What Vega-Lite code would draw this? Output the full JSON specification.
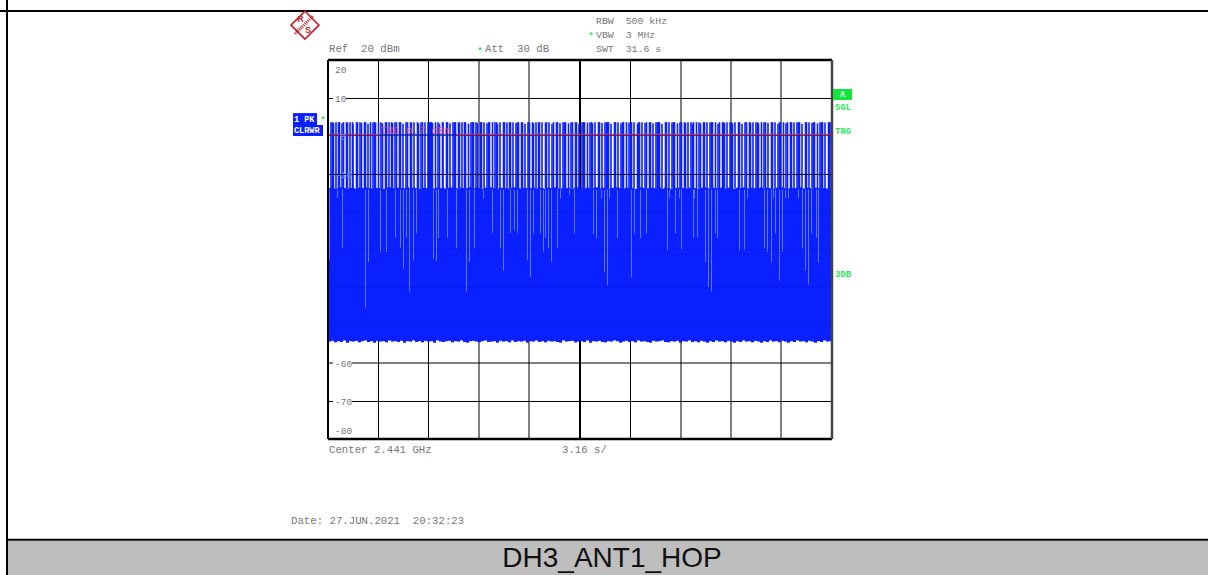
{"$schema":"https://vega.github.io/schema/vega-lite/v6.json","width":504,"height":379,"autosize":"none","padding":{"left":328,"top":60,"right":376,"bottom":136},"background":"#ffffff","view":{"stroke":null},
"encoding":{"x":{"field":"sweep","type":"quantitative","scale":{"domain":[0,504],"nice":false,"zero":false},"axis":null},"y":{"field":"level","type":"quantitative","scale":{"domain":[-80,20],"nice":false,"zero":false},"axis":null}},
"layer":[
{"data":{"values":[{"sweep":-320,"sweep2":880,"level":-106.9,"level2":-116}]},"mark":{"type":"rect","color":"#bebebe"},"encoding":{"x2":{"field":"sweep2"},"y2":{"field":"level2"}}},
{"data":{"values":[{"sweep":-328,"sweep2":880,"level":32.93},{"sweep":-321,"sweep2":880,"level":-106.6}]},"mark":{"type":"rule","color":"#000000","strokeWidth":2},"encoding":{"x2":{"field":"sweep2"}}},
{"data":{"values":[{"sweep":-321,"level":36,"level2":-116}]},"mark":{"type":"rule","color":"#000000","strokeWidth":2},"encoding":{"y2":{"field":"level2"}}},
{"data":{"values":[{"sweep":50.5,"level":20,"level2":-80},{"sweep":100.5,"level":20,"level2":-80},{"sweep":151,"level":20,"level2":-80},{"sweep":201,"level":20,"level2":-80},{"sweep":251.5,"level":20,"level2":-80},{"sweep":252.5,"level":20,"level2":-80},{"sweep":302.5,"level":20,"level2":-80},{"sweep":353,"level":20,"level2":-80},{"sweep":403,"level":20,"level2":-80},{"sweep":453,"level":20,"level2":-80}]},"mark":{"type":"rule","color":"#000000","strokeWidth":1},"encoding":{"y2":{"field":"level2"}}},
{"data":{"values":[{"sweep":0,"sweep2":504,"level":9.85},{"sweep":0,"sweep2":504,"level":0.2},{"sweep":0,"sweep2":504,"level":-10.2},{"sweep":0,"sweep2":504,"level":-59.95},{"sweep":0,"sweep2":504,"level":-70.1}]},"mark":{"type":"rule","color":"#000000","strokeWidth":1},"encoding":{"x2":{"field":"sweep2"}}},
{"data":{"values":[{"sweep":3,"peak":3.6},{"sweep":4.5,"peak":3.6},{"sweep":5.5,"peak":3.4},{"sweep":8,"peak":3.6},{"sweep":10.5,"peak":3.6},{"sweep":11.5,"peak":3.6},{"sweep":14,"peak":3.3},{"sweep":15.5,"peak":3.6},{"sweep":18.5,"peak":3.6},{"sweep":19.5,"peak":3.5},{"sweep":22,"peak":3.6},{"sweep":24.5,"peak":3.6},{"sweep":25,"peak":3.2},{"sweep":28.5,"peak":3.6},{"sweep":29.5,"peak":3.6},{"sweep":32,"peak":3.6},{"sweep":33.5,"peak":3.4},{"sweep":36.5,"peak":3.6},{"sweep":37.5,"peak":3.6},{"sweep":40,"peak":3.2},{"sweep":42.5,"peak":3.6},{"sweep":45,"peak":3.6},{"sweep":46.5,"peak":3.6},{"sweep":47.5,"peak":3.5},{"sweep":50.5,"peak":3.6},{"sweep":53,"peak":3.6},{"sweep":54.5,"peak":3.3},{"sweep":57.5,"peak":3.6},{"sweep":58.5,"peak":3.6},{"sweep":61,"peak":3.6},{"sweep":63.5,"peak":3.6},{"sweep":64.5,"peak":3.4},{"sweep":67,"peak":3.6},{"sweep":68.5,"peak":3.6},{"sweep":71.5,"peak":3.6},{"sweep":72.5,"peak":3.6},{"sweep":75,"peak":3.2},{"sweep":78,"peak":3.6},{"sweep":79.5,"peak":3.6},{"sweep":82.5,"peak":3.6},{"sweep":83.5,"peak":3.5},{"sweep":86,"peak":3.6},{"sweep":89.5,"peak":3.6},{"sweep":90.5,"peak":3.3},{"sweep":93,"peak":3.6},{"sweep":94.5,"peak":3.6},{"sweep":97,"peak":3.6},{"sweep":100,"peak":3.6},{"sweep":101.5,"peak":3.6},{"sweep":102.5,"peak":3.6},{"sweep":103.5,"peak":3.6},{"sweep":104.5,"peak":3.4},{"sweep":107.5,"peak":3.6},{"sweep":110,"peak":3.6},{"sweep":111.5,"peak":3.2},{"sweep":114.5,"peak":3.6},{"sweep":115,"peak":3.6},{"sweep":118.5,"peak":3.6},{"sweep":119.5,"peak":3.6},{"sweep":122,"peak":3.3},{"sweep":125,"peak":3.6},{"sweep":126.5,"peak":3.6},{"sweep":127.5,"peak":3.6},{"sweep":130.5,"peak":3.6},{"sweep":131.5,"peak":3.5},{"sweep":134,"peak":3.6},{"sweep":136.5,"peak":3.6},{"sweep":137.5,"peak":3.6},{"sweep":140.5,"peak":3.2},{"sweep":143,"peak":3.6},{"sweep":144.5,"peak":3.6},{"sweep":145.5,"peak":3.6},{"sweep":148,"peak":3.6},{"sweep":149.5,"peak":3.4},{"sweep":152.5,"peak":3.6},{"sweep":153.5,"peak":3.6},{"sweep":156,"peak":3.6},{"sweep":159,"peak":3.3},{"sweep":160.5,"peak":3.6},{"sweep":161.5,"peak":3.6},{"sweep":164.5,"peak":3.6},{"sweep":167,"peak":3.6},{"sweep":168.5,"peak":3.6},{"sweep":169.5,"peak":3.2},{"sweep":172,"peak":3.6},{"sweep":175.5,"peak":3.6},{"sweep":176.5,"peak":3.6},{"sweep":179,"peak":3.5},{"sweep":181.5,"peak":3.6},{"sweep":182.5,"peak":3.6},{"sweep":185,"peak":3.6},{"sweep":188,"peak":3.4},{"sweep":189.5,"peak":3.6},{"sweep":190.5,"peak":3.6},{"sweep":193.5,"peak":3.6},{"sweep":194.5,"peak":3.6},{"sweep":197,"peak":3.2},{"sweep":200,"peak":3.6},{"sweep":201.5,"peak":3.6},{"sweep":204.5,"peak":3.6},{"sweep":205.5,"peak":3.3},{"sweep":208,"peak":3.6},{"sweep":210.5,"peak":3.6},{"sweep":211.5,"peak":3.6},{"sweep":214,"peak":3.6},{"sweep":217.5,"peak":3.5},{"sweep":218.5,"peak":3.6},{"sweep":221,"peak":3.6},{"sweep":224,"peak":3.2},{"sweep":225.5,"peak":3.6},{"sweep":228.5,"peak":3.6},{"sweep":229.5,"peak":3.6},{"sweep":232,"peak":3.4},{"sweep":235,"peak":3.6},{"sweep":236.5,"peak":3.6},{"sweep":237.5,"peak":3.6},{"sweep":240.5,"peak":3.3},{"sweep":243,"peak":3.6},{"sweep":244.5,"peak":3.6},{"sweep":247.5,"peak":3.6},{"sweep":248.5,"peak":3.6},{"sweep":251,"peak":3.2},{"sweep":254,"peak":3.6},{"sweep":255.5,"peak":3.6},{"sweep":256.5,"peak":3.6},{"sweep":259.5,"peak":3.5},{"sweep":262,"peak":3.6},{"sweep":263.5,"peak":3.6},{"sweep":264.5,"peak":3.3},{"sweep":267,"peak":3.6},{"sweep":270.5,"peak":3.6},{"sweep":271.5,"peak":3.6},{"sweep":274,"peak":3.4},{"sweep":277,"peak":3.6},{"sweep":278.5,"peak":3.6},{"sweep":279.5,"peak":3.6},{"sweep":280.5,"peak":3.6},{"sweep":283,"peak":3.2},{"sweep":286.5,"peak":3.6},{"sweep":287.5,"peak":3.6},{"sweep":290,"peak":3.6},{"sweep":293,"peak":3.3},{"sweep":294.5,"peak":3.6},{"sweep":295.5,"peak":3.6},{"sweep":298.5,"peak":3.6},{"sweep":301,"peak":3.5},{"sweep":302.5,"peak":3.6},{"sweep":303.5,"peak":3.6},{"sweep":306,"peak":3.6},{"sweep":309.5,"peak":3.2},{"sweep":310.5,"peak":3.6},{"sweep":311.5,"peak":3.6},{"sweep":314,"peak":3.6},{"sweep":317,"peak":3.4},{"sweep":318.5,"peak":3.6},{"sweep":321.5,"peak":3.6},{"sweep":322.5,"peak":3.6},{"sweep":325,"peak":3.3},{"sweep":328,"peak":3.6},{"sweep":329.5,"peak":3.6},{"sweep":330.5,"peak":3.6},{"sweep":331.5,"peak":3.6},{"sweep":334,"peak":3.2},{"sweep":337.5,"peak":3.6},{"sweep":338.5,"peak":3.6},{"sweep":341,"peak":3.6},{"sweep":344,"peak":3.5},{"sweep":345.5,"peak":3.6},{"sweep":346.5,"peak":3.6},{"sweep":349.5,"peak":3.3},{"sweep":352,"peak":3.6},{"sweep":353.5,"peak":3.6},{"sweep":356.5,"peak":3.6},{"sweep":357.5,"peak":3.4},{"sweep":360,"peak":3.6},{"sweep":363,"peak":3.6},{"sweep":364.5,"peak":3.2},{"sweep":365.5,"peak":3.6},{"sweep":368.5,"peak":3.6},{"sweep":371,"peak":3.6},{"sweep":372.5,"peak":3.3},{"sweep":375.5,"peak":3.6},{"sweep":376.5,"peak":3.6},{"sweep":379,"peak":3.6},{"sweep":382,"peak":3.5},{"sweep":383.5,"peak":3.6},{"sweep":384.5,"peak":3.6},{"sweep":387.5,"peak":3.6},{"sweep":390,"peak":3.2},{"sweep":391.5,"peak":3.6},{"sweep":394.5,"peak":3.6},{"sweep":395.5,"peak":3.6},{"sweep":396.5,"peak":3.4},{"sweep":399,"peak":3.6},{"sweep":402,"peak":3.6},{"sweep":403.5,"peak":3.6},{"sweep":404.5,"peak":3.3},{"sweep":407,"peak":3.6},{"sweep":410.5,"peak":3.6},{"sweep":411.5,"peak":3.6},{"sweep":414,"peak":3.2},{"sweep":417,"peak":3.6},{"sweep":418.5,"peak":3.6},{"sweep":421.5,"peak":3.6},{"sweep":422.5,"peak":3.5},{"sweep":425,"peak":3.6},{"sweep":428,"peak":3.6},{"sweep":429.5,"peak":3.6},{"sweep":430.5,"peak":3.3},{"sweep":433.5,"peak":3.6},{"sweep":436,"peak":3.6},{"sweep":437.5,"peak":3.6},{"sweep":440,"peak":3.4},{"sweep":443.5,"peak":3.6},{"sweep":444.5,"peak":3.6},{"sweep":447,"peak":3.6},{"sweep":450,"peak":3.2},{"sweep":451.5,"peak":3.6},{"sweep":452.5,"peak":3.6},{"sweep":455.5,"peak":3.6},{"sweep":458,"peak":3.3},{"sweep":459.5,"peak":3.6},{"sweep":462.5,"peak":3.6},{"sweep":463.5,"peak":3.6},{"sweep":466,"peak":3.5},{"sweep":469,"peak":3.6},{"sweep":470.5,"peak":3.6},{"sweep":471.5,"peak":3.6},{"sweep":474,"peak":3.2},{"sweep":477.5,"peak":3.6},{"sweep":478.5,"peak":3.6},{"sweep":481,"peak":3.6},{"sweep":484,"peak":3.4},{"sweep":485.5,"peak":3.6},{"sweep":486.5,"peak":3.6},{"sweep":489.5,"peak":3.3},{"sweep":492,"peak":3.6},{"sweep":493.5,"peak":3.6},{"sweep":494.5,"peak":3.6},{"sweep":497,"peak":3.5},{"sweep":500.5,"peak":3.6},{"sweep":501.5,"peak":3.6},{"sweep":503,"peak":3.6}]},"mark":{"type":"rule","color":"#0a20ff","strokeWidth":1.6},"encoding":{"y":{"field":"peak"},"y2":{"datum":-14}}},
{"data":{"values":[{"sweep":1.5,"level":-13.8,"level2":-54.3},{"sweep":4.5,"level":-13.7,"level2":-54.1},{"sweep":7.5,"level":-13.9,"level2":-54.5},{"sweep":10.5,"level":-13.8,"level2":-54.2},{"sweep":13.5,"level":-13.6,"level2":-54.4},{"sweep":16.5,"level":-13.8,"level2":-54.0},{"sweep":19.5,"level":-13.9,"level2":-54.6},{"sweep":22.5,"level":-13.7,"level2":-54.2},{"sweep":25.5,"level":-13.8,"level2":-54.3},{"sweep":28.5,"level":-14.0,"level2":-54.1},{"sweep":31.5,"level":-13.7,"level2":-54.5},{"sweep":34.5,"level":-13.8,"level2":-54.2},{"sweep":37.5,"level":-13.6,"level2":-54.0},{"sweep":40.5,"level":-13.8,"level2":-54.4},{"sweep":43.5,"level":-13.9,"level2":-54.2},{"sweep":46.5,"level":-13.7,"level2":-54.6},{"sweep":49.5,"level":-13.8,"level2":-54.1},{"sweep":52.5,"level":-13.8,"level2":-54.3},{"sweep":55.5,"level":-14.0,"level2":-54.2},{"sweep":58.5,"level":-13.7,"level2":-54.5},{"sweep":61.5,"level":-13.6,"level2":-54.0},{"sweep":64.5,"level":-13.8,"level2":-54.3},{"sweep":67.5,"level":-13.9,"level2":-54.2},{"sweep":70.5,"level":-13.7,"level2":-54.4},{"sweep":73.5,"level":-13.8,"level2":-54.1},{"sweep":76.5,"level":-13.8,"level2":-54.6},{"sweep":79.5,"level":-13.6,"level2":-54.2},{"sweep":82.5,"level":-13.9,"level2":-54.3},{"sweep":85.5,"level":-13.7,"level2":-54.0},{"sweep":88.5,"level":-13.8,"level2":-54.4},{"sweep":91.5,"level":-14.0,"level2":-54.2},{"sweep":94.5,"level":-13.7,"level2":-54.5},{"sweep":97.5,"level":-13.8,"level2":-54.1},{"sweep":100.5,"level":-13.6,"level2":-54.3},{"sweep":103.5,"level":-13.8,"level2":-54.2},{"sweep":106.5,"level":-13.9,"level2":-54.6},{"sweep":109.5,"level":-13.7,"level2":-54.0},{"sweep":112.5,"level":-13.8,"level2":-54.3},{"sweep":115.5,"level":-13.8,"level2":-54.4},{"sweep":118.5,"level":-14.0,"level2":-54.2},{"sweep":121.5,"level":-13.7,"level2":-54.1},{"sweep":124.5,"level":-13.6,"level2":-54.5},{"sweep":127.5,"level":-13.8,"level2":-54.2},{"sweep":130.5,"level":-13.9,"level2":-54.3},{"sweep":133.5,"level":-13.7,"level2":-54.0},{"sweep":136.5,"level":-13.8,"level2":-54.4},{"sweep":139.5,"level":-13.8,"level2":-54.6},{"sweep":142.5,"level":-13.6,"level2":-54.2},{"sweep":145.5,"level":-13.9,"level2":-54.1},{"sweep":148.5,"level":-13.7,"level2":-54.3},{"sweep":151.5,"level":-13.8,"level2":-54.5},{"sweep":154.5,"level":-14.0,"level2":-54.2},{"sweep":157.5,"level":-13.7,"level2":-54.0},{"sweep":160.5,"level":-13.8,"level2":-54.4},{"sweep":163.5,"level":-13.6,"level2":-54.3},{"sweep":166.5,"level":-13.8,"level2":-54.2},{"sweep":169.5,"level":-13.9,"level2":-54.6},{"sweep":172.5,"level":-13.7,"level2":-54.1},{"sweep":175.5,"level":-13.8,"level2":-54.3},{"sweep":178.5,"level":-13.8,"level2":-54.2},{"sweep":181.5,"level":-14.0,"level2":-54.5},{"sweep":184.5,"level":-13.7,"level2":-54.0},{"sweep":187.5,"level":-13.6,"level2":-54.4},{"sweep":190.5,"level":-13.8,"level2":-54.2},{"sweep":193.5,"level":-13.9,"level2":-54.3},{"sweep":196.5,"level":-13.7,"level2":-54.1},{"sweep":199.5,"level":-13.8,"level2":-54.6},{"sweep":202.5,"level":-13.8,"level2":-54.2},{"sweep":205.5,"level":-13.6,"level2":-54.3},{"sweep":208.5,"level":-13.9,"level2":-54.0},{"sweep":211.5,"level":-13.7,"level2":-54.4},{"sweep":214.5,"level":-13.8,"level2":-54.2},{"sweep":217.5,"level":-14.0,"level2":-54.5},{"sweep":220.5,"level":-13.7,"level2":-54.1},{"sweep":223.5,"level":-13.8,"level2":-54.3},{"sweep":226.5,"level":-13.6,"level2":-54.2},{"sweep":229.5,"level":-13.8,"level2":-54.4},{"sweep":232.5,"level":-13.9,"level2":-54.6},{"sweep":235.5,"level":-13.7,"level2":-54.0},{"sweep":238.5,"level":-13.8,"level2":-54.3},{"sweep":241.5,"level":-13.8,"level2":-54.2},{"sweep":244.5,"level":-14.0,"level2":-54.1},{"sweep":247.5,"level":-13.7,"level2":-54.5},{"sweep":250.5,"level":-13.6,"level2":-54.3},{"sweep":253.5,"level":-13.8,"level2":-54.2},{"sweep":256.5,"level":-13.9,"level2":-54.4},{"sweep":259.5,"level":-13.7,"level2":-54.0},{"sweep":262.5,"level":-13.8,"level2":-54.6},{"sweep":265.5,"level":-13.8,"level2":-54.2},{"sweep":268.5,"level":-13.6,"level2":-54.3},{"sweep":271.5,"level":-13.9,"level2":-54.1},{"sweep":274.5,"level":-13.7,"level2":-54.4},{"sweep":277.5,"level":-13.8,"level2":-54.5},{"sweep":280.5,"level":-14.0,"level2":-54.2},{"sweep":283.5,"level":-13.7,"level2":-54.3},{"sweep":286.5,"level":-13.8,"level2":-54.0},{"sweep":289.5,"level":-13.6,"level2":-54.2},{"sweep":292.5,"level":-13.8,"level2":-54.6},{"sweep":295.5,"level":-13.9,"level2":-54.3},{"sweep":298.5,"level":-13.7,"level2":-54.1},{"sweep":301.5,"level":-13.8,"level2":-54.4},{"sweep":304.5,"level":-13.8,"level2":-54.2},{"sweep":307.5,"level":-14.0,"level2":-54.5},{"sweep":310.5,"level":-13.7,"level2":-54.0},{"sweep":313.5,"level":-13.6,"level2":-54.3},{"sweep":316.5,"level":-13.8,"level2":-54.2},{"sweep":319.5,"level":-13.9,"level2":-54.4},{"sweep":322.5,"level":-13.7,"level2":-54.6},{"sweep":325.5,"level":-13.8,"level2":-54.1},{"sweep":328.5,"level":-13.8,"level2":-54.3},{"sweep":331.5,"level":-13.6,"level2":-54.2},{"sweep":334.5,"level":-13.9,"level2":-54.0},{"sweep":337.5,"level":-13.7,"level2":-54.4},{"sweep":340.5,"level":-13.8,"level2":-54.5},{"sweep":343.5,"level":-14.0,"level2":-54.2},{"sweep":346.5,"level":-13.7,"level2":-54.3},{"sweep":349.5,"level":-13.8,"level2":-54.1},{"sweep":352.5,"level":-13.6,"level2":-54.6},{"sweep":355.5,"level":-13.8,"level2":-54.2},{"sweep":358.5,"level":-13.9,"level2":-54.3},{"sweep":361.5,"level":-13.7,"level2":-54.0},{"sweep":364.5,"level":-13.8,"level2":-54.4},{"sweep":367.5,"level":-13.8,"level2":-54.2},{"sweep":370.5,"level":-14.0,"level2":-54.5},{"sweep":373.5,"level":-13.7,"level2":-54.1},{"sweep":376.5,"level":-13.6,"level2":-54.3},{"sweep":379.5,"level":-13.8,"level2":-54.6},{"sweep":382.5,"level":-13.9,"level2":-54.2},{"sweep":385.5,"level":-13.7,"level2":-54.4},{"sweep":388.5,"level":-13.8,"level2":-54.0},{"sweep":391.5,"level":-13.8,"level2":-54.3},{"sweep":394.5,"level":-13.6,"level2":-54.2},{"sweep":397.5,"level":-13.9,"level2":-54.5},{"sweep":400.5,"level":-13.7,"level2":-54.1},{"sweep":403.5,"level":-13.8,"level2":-54.3},{"sweep":406.5,"level":-14.0,"level2":-54.6},{"sweep":409.5,"level":-13.7,"level2":-54.2},{"sweep":412.5,"level":-13.8,"level2":-54.4},{"sweep":415.5,"level":-13.6,"level2":-54.0},{"sweep":418.5,"level":-13.8,"level2":-54.3},{"sweep":421.5,"level":-13.9,"level2":-54.2},{"sweep":424.5,"level":-13.7,"level2":-54.5},{"sweep":427.5,"level":-13.8,"level2":-54.1},{"sweep":430.5,"level":-13.8,"level2":-54.3},{"sweep":433.5,"level":-13.6,"level2":-54.6},{"sweep":436.5,"level":-13.9,"level2":-54.2},{"sweep":439.5,"level":-13.7,"level2":-54.4},{"sweep":442.5,"level":-13.8,"level2":-54.0},{"sweep":445.5,"level":-14.0,"level2":-54.3},{"sweep":448.5,"level":-13.7,"level2":-54.2},{"sweep":451.5,"level":-13.8,"level2":-54.5},{"sweep":454.5,"level":-13.6,"level2":-54.1},{"sweep":457.5,"level":-13.8,"level2":-54.3},{"sweep":460.5,"level":-13.9,"level2":-54.6},{"sweep":463.5,"level":-13.7,"level2":-54.2},{"sweep":466.5,"level":-13.8,"level2":-54.4},{"sweep":469.5,"level":-13.8,"level2":-54.0},{"sweep":472.5,"level":-13.6,"level2":-54.3},{"sweep":475.5,"level":-13.9,"level2":-54.2},{"sweep":478.5,"level":-13.7,"level2":-54.5},{"sweep":481.5,"level":-13.8,"level2":-54.1},{"sweep":484.5,"level":-14.0,"level2":-54.3},{"sweep":487.5,"level":-13.7,"level2":-54.6},{"sweep":490.5,"level":-13.8,"level2":-54.2},{"sweep":493.5,"level":-13.6,"level2":-54.4},{"sweep":496.5,"level":-13.8,"level2":-54.0},{"sweep":499.5,"level":-13.9,"level2":-54.3},{"sweep":502.5,"level":-13.7,"level2":-54.2}]},"mark":{"type":"rule","color":"#0a20ff","strokeWidth":3},"encoding":{"y2":{"field":"level2"}}},
{"data":{"values":[{"sweep":1.5,"level":-14.2,"level2":-32.8},{"sweep":9.5,"level":-14.2,"level2":-16.4},{"sweep":14.5,"level":-14.2,"level2":-29.5},{"sweep":37.5,"level":-14.2,"level2":-45.4},{"sweep":40.5,"level":-14.2,"level2":-33.3},{"sweep":52.5,"level":-14.2,"level2":-30.6},{"sweep":58.5,"level":-14.2,"level2":-30.6},{"sweep":67.5,"level":-14.2,"level2":-27},{"sweep":72.5,"level":-14.2,"level2":-29.5},{"sweep":75.5,"level":-14.2,"level2":-35.1},{"sweep":78.5,"level":-14.2,"level2":-26.9},{"sweep":81.5,"level":-14.2,"level2":-41.1},{"sweep":85.5,"level":-14.2,"level2":-33},{"sweep":88.5,"level":-14.2,"level2":-25.6},{"sweep":105.5,"level":-14.2,"level2":-32.5},{"sweep":108.5,"level":-14.2,"level2":-33},{"sweep":110.5,"level":-14.2,"level2":-27},{"sweep":119.5,"level":-14.2,"level2":-27},{"sweep":128.5,"level":-14.2,"level2":-29.7},{"sweep":138.5,"level":-14.2,"level2":-41},{"sweep":141.5,"level":-14.2,"level2":-33.3},{"sweep":146.5,"level":-14.2,"level2":-29.7},{"sweep":155.5,"level":-14.2,"level2":-16.5},{"sweep":164.5,"level":-14.2,"level2":-25.6},{"sweep":172.5,"level":-14.2,"level2":-29.7},{"sweep":175.5,"level":-14.2,"level2":-35.6},{"sweep":182.5,"level":-14.2,"level2":-25.6},{"sweep":186.5,"level":-14.2,"level2":-25},{"sweep":189.5,"level":-14.2,"level2":-25.6},{"sweep":199.5,"level":-14.2,"level2":-32.8},{"sweep":202.5,"level":-14.2,"level2":-37.2},{"sweep":205.5,"level":-14.2,"level2":-25.7},{"sweep":212.5,"level":-14.2,"level2":-25.7},{"sweep":215.5,"level":-14.2,"level2":-30.6},{"sweep":217.5,"level":-14.2,"level2":-27},{"sweep":220.5,"level":-14.2,"level2":-29.7},{"sweep":223.5,"level":-14.2,"level2":-33.2},{"sweep":229.5,"level":-14.2,"level2":-29.7},{"sweep":232.5,"level":-14.2,"level2":-16.5},{"sweep":241.5,"level":-14.2,"level2":-15.7},{"sweep":246.5,"level":-14.2,"level2":-25.7},{"sweep":265.5,"level":-14.2,"level2":-26},{"sweep":268.5,"level":-14.2,"level2":-27},{"sweep":273.5,"level":-14.2,"level2":-16.5},{"sweep":276.5,"level":-14.2,"level2":-35.9},{"sweep":279.5,"level":-14.2,"level2":-39.4},{"sweep":281.5,"level":-14.2,"level2":-16.5},{"sweep":289.5,"level":-14.2,"level2":-27},{"sweep":303.5,"level":-14.2,"level2":-37.4},{"sweep":306.5,"level":-14.2,"level2":-25.7},{"sweep":312.5,"level":-14.2,"level2":-27},{"sweep":318.5,"level":-14.2,"level2":-25.7},{"sweep":339.5,"level":-14.2,"level2":-30.2},{"sweep":341.5,"level":-14.2,"level2":-16.5},{"sweep":347.5,"level":-14.2,"level2":-25.7},{"sweep":351.5,"level":-14.2,"level2":-16.5},{"sweep":353.5,"level":-14.2,"level2":-30},{"sweep":365.5,"level":-14.2,"level2":-26.9},{"sweep":366.5,"level":-14.2,"level2":-16.5},{"sweep":369.5,"level":-14.2,"level2":-26.9},{"sweep":377.5,"level":-14.2,"level2":-33.4},{"sweep":380.5,"level":-14.2,"level2":-39.9},{"sweep":383.5,"level":-14.2,"level2":-41.1},{"sweep":387.5,"level":-14.2,"level2":-25.7},{"sweep":389.5,"level":-14.2,"level2":-27},{"sweep":411.5,"level":-14.2,"level2":-30.2},{"sweep":416.5,"level":-14.2,"level2":-30},{"sweep":419.5,"level":-14.2,"level2":-16.5},{"sweep":436.5,"level":-14.2,"level2":-29.7},{"sweep":439.5,"level":-14.2,"level2":-30.6},{"sweep":443.5,"level":-14.2,"level2":-33.4},{"sweep":445.5,"level":-14.2,"level2":-16.5},{"sweep":447.5,"level":-14.2,"level2":-25.7},{"sweep":451.5,"level":-14.2,"level2":-38.2},{"sweep":454.5,"level":-14.2,"level2":-30.6},{"sweep":457.5,"level":-14.2,"level2":-16.5},{"sweep":460.5,"level":-14.2,"level2":-16.5},{"sweep":470.5,"level":-14.2,"level2":-16.5},{"sweep":474.5,"level":-14.2,"level2":-29.7},{"sweep":477.5,"level":-14.2,"level2":-35.6},{"sweep":480.5,"level":-14.2,"level2":-39.2},{"sweep":483.5,"level":-14.2,"level2":-25.7},{"sweep":488.5,"level":-14.2,"level2":-27},{"sweep":490.5,"level":-14.2,"level2":-33.4}]},"mark":{"type":"rule","color":"#5f76ff","strokeWidth":1},"encoding":{"y2":{"field":"level2"}}},
{"data":{"values":[{"sweep":0,"sweep2":504,"level":-20},{"sweep":0,"sweep2":504,"level":-30},{"sweep":0,"sweep2":504,"level":-40},{"sweep":0,"sweep2":504,"level":-50}]},"mark":{"type":"rule","color":"#000000","strokeWidth":1,"opacity":0.1},"encoding":{"x2":{"field":"sweep2"}}},
{"data":{"values":[{"sweep":0,"sweep2":504,"level":-10.2}]},"mark":{"type":"rule","color":"#000000","strokeWidth":1,"opacity":0.7},"encoding":{"x2":{"field":"sweep2"}}},
{"data":{"values":[{"sweep":0,"sweep2":504,"level":0.2}]},"mark":{"type":"rule","color":"#000000","strokeWidth":1,"opacity":0.35},"encoding":{"x2":{"field":"sweep2"}}},
{"data":{"values":[{"sweep":0,"sweep2":52,"level":0.37},{"sweep":128,"sweep2":504,"level":0.37}]},"mark":{"type":"rule","color":"#e5282d","strokeWidth":1},"encoding":{"x2":{"field":"sweep2"}}},
{"data":{"values":[{"sweep":5,"sweep2":18,"level":11.1,"level2":8.9},{"sweep":5,"sweep2":24,"level":-58.9,"level2":-61.1},{"sweep":5,"sweep2":24,"level":-68.9,"level2":-71.1}]},"mark":{"type":"rect","color":"#ffffff"},"encoding":{"x2":{"field":"sweep2"},"y2":{"field":"level2"}}},
{"data":{"values":[{"sweep":0,"sweep2":504,"level":20},{"sweep":0,"sweep2":504,"level":-80}]},"mark":{"type":"rule","color":"#000000","strokeWidth":2.5},"encoding":{"x2":{"field":"sweep2"}}},
{"data":{"values":[{"sweep":0,"level":20,"level2":-80}]},"mark":{"type":"rule","color":"#000000","strokeWidth":2},"encoding":{"y2":{"field":"level2"}}},
{"data":{"values":[{"sweep":504,"level":20,"level2":-80}]},"mark":{"type":"rule","color":"#444444","strokeWidth":2.5},"encoding":{"y2":{"field":"level2"}}},
{"data":{"values":[{"sweep":-35,"sweep2":-11,"level":6,"level2":2.85},{"sweep":-35,"sweep2":-5,"level":2.85,"level2":-0.05}]},"mark":{"type":"rect","color":"#0a20ff"},"encoding":{"x2":{"field":"sweep2"},"y2":{"field":"level2"}}},
{"data":{"values":[{"sweep":505,"sweep2":524,"level":12.35,"level2":9.45}]},"mark":{"type":"rect","color":"#12e63c"},"encoding":{"x2":{"field":"sweep2"},"y2":{"field":"level2"}}},
{"data":{"values":[{"sweep":-23,"level":29.2}]},"mark":{"type":"point","shape":"diamond","size":784,"filled":false,"color":"#c8202a","strokeWidth":1.6,"opacity":1}},
{"data":{"values":[{"sweep":-33,"sweep2":-15,"level":26.9,"level2":31.6}]},"mark":{"type":"rule","color":"#c8202a","strokeWidth":3,"strokeDash":[1,1]},"encoding":{"x2":{"field":"sweep2"},"y2":{"field":"level2"}}},
{"data":{"values":[{"label":"R","sweep":-27.5,"level":30.8},{"label":"S","sweep":-20,"level":27.8}]},"mark":{"type":"text","font":"Liberation Sans","fontWeight":"bold","fontSize":9,"color":"#c8202a"},"encoding":{"text":{"field":"label"}}},
{"data":{"values":[{"label":"Ref\u00a0\u00a020\u00a0dBm","sweep":1,"level":22.8},{"label":"Att\u00a0\u00a030\u00a0dB","sweep":157,"level":22.8},{"label":"Center 2.441 GHz","sweep":1,"level":-82.9},{"label":"3.16 s/","sweep":234,"level":-82.9},{"label":"Date: 27.JUN.2021\u00a0\u00a020:32:23","sweep":-37,"level":-101.6}]},"mark":{"type":"text","font":"Liberation Mono","fontSize":10.7,"color":"#777777","align":"left","baseline":"middle"},"encoding":{"text":{"field":"label"}}},
{"data":{"values":[{"label":"RBW\u00a0\u00a0500 kHz","sweep":268,"level":30.3},{"label":"VBW\u00a0\u00a03 MHz","sweep":268,"level":26.6},{"label":"SWT\u00a0\u00a031.6 s","sweep":268,"level":22.8}]},"mark":{"type":"text","font":"Liberation Mono","fontSize":9.9,"color":"#777777","align":"left","baseline":"middle"},"encoding":{"text":{"field":"label"}}},
{"data":{"values":[{"label":"20","sweep":7,"level":17.4},{"label":"10","sweep":7,"level":9.7},{"label":"-60","sweep":7,"level":-60.1},{"label":"-70","sweep":7,"level":-70.2},{"label":"-80","sweep":7,"level":-78}]},"mark":{"type":"text","font":"Liberation Mono","fontSize":9.5,"color":"#777777","align":"left","baseline":"middle"},"encoding":{"text":{"field":"label"}}},
{"data":{"values":[{"label":"-10","sweep":7,"level":-10.3},{"label":"0","sweep":12,"level":-0.2}]},"mark":{"type":"text","font":"Liberation Mono","fontSize":9.5,"color":"#7a8cff","align":"left","baseline":"middle"},"encoding":{"text":{"field":"label"}}},
{"data":{"values":[{"label":"TRG 0.7 dBm","sweep":52,"level":1.3}]},"mark":{"type":"text","font":"Liberation Mono","fontSize":10.7,"color":"#e8506a","align":"left","baseline":"middle","opacity":0.8},"encoding":{"text":{"field":"label"}}},
{"data":{"values":[{"label":"1 PK","sweep":-34,"level":4.4},{"label":"CLRWR","sweep":-34,"level":1.4}]},"mark":{"type":"text","font":"Liberation Mono","fontWeight":"bold","fontSize":8.5,"color":"#ffffff","align":"left","baseline":"middle"},"encoding":{"text":{"field":"label"}}},
{"data":{"values":[{"label":"A","sweep":514.5,"level":10.9}]},"mark":{"type":"text","font":"Liberation Mono","fontWeight":"bold","fontSize":8.5,"color":"#e8ffe8","align":"center","baseline":"middle"},"encoding":{"text":{"field":"label"}}},
{"data":{"values":[{"label":"SGL","sweep":507,"level":7.6},{"label":"TRG","sweep":507,"level":1.3},{"label":"3DB","sweep":507,"level":-36.5}]},"mark":{"type":"text","font":"Liberation Mono","fontWeight":"bold","fontSize":9,"color":"#2ee65a","align":"left","baseline":"middle"},"encoding":{"text":{"field":"label"}}},
{"data":{"values":[{"label":"*","sweep":152,"level":22.5},{"label":"*","sweep":263,"level":26.3},{"label":"*","sweep":-5,"level":4.1}]},"mark":{"type":"text","font":"Liberation Mono","fontWeight":"bold","fontSize":9,"color":"#2ee65a","align":"center","baseline":"middle"},"encoding":{"text":{"field":"label"}}},
{"data":{"values":[{"label":"DH3_ANT1_HOP","sweep":284,"level":-111.7}]},"mark":{"type":"text","font":"Liberation Sans","fontSize":28,"color":"#111111","align":"center","baseline":"middle"},"encoding":{"text":{"field":"label"}}}
]}
